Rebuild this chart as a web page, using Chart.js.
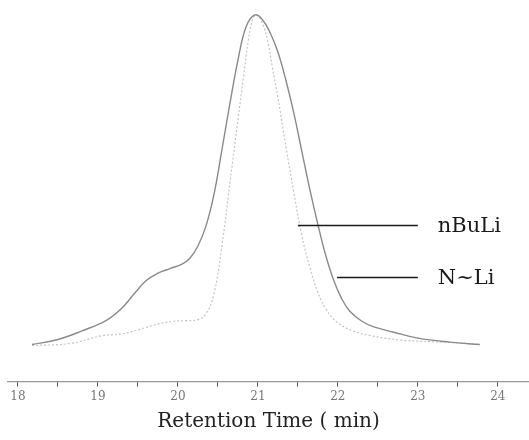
<!DOCTYPE html>
<html>
<head>
<meta charset="utf-8">
<script src="https://cdn.jsdelivr.net/npm/chart.js@4.4.1/dist/chart.umd.min.js"></script>
<style>
  body { margin: 0; background: #fff; }
</style>
</head>
<body>
<canvas id="gpc" width="529" height="440"></canvas>
<script>
// retention time (min) and normalised detector response (% of peak)
const outerTime = [18.175, 18.5, 18.8, 19.1, 19.3, 19.45, 19.6, 19.75, 19.9, 20.05, 20.15, 20.25, 20.35, 20.45, 20.55, 20.65, 20.75, 20.85, 20.96, 21.05, 21.15, 21.25, 21.35, 21.45, 21.55, 21.65, 21.75, 21.85, 21.95, 22.05, 22.15, 22.3, 22.45, 22.7, 23.0, 23.4, 23.775]
const outerResp = [0.3, 1.8, 4.4, 7.5, 11.3, 15.5, 19.5, 21.8, 23.2, 24.5, 26.3, 30.0, 36.0, 45.5, 59.0, 73.0, 86.0, 96.0, 99.7, 98.5, 94.5, 88.5, 80.0, 70.0, 58.5, 47.0, 36.5, 27.0, 19.5, 14.0, 10.3, 7.3, 5.6, 4.0, 2.2, 1.0, 0.3]

const innerTime = [18.175, 18.65, 19.06, 19.275, 19.525, 19.74, 19.94, 20.1, 20.25, 20.35, 20.45, 20.55, 20.65, 20.75, 20.82, 20.88, 20.93, 20.98, 21.05, 21.125, 21.18, 21.25, 21.35, 21.45, 21.55, 21.65, 21.75, 21.85, 22.0, 22.2, 22.4, 22.8, 23.4, 23.775]
const innerResp = [0.0, 0.6, 3.0, 3.4, 4.9, 6.4, 7.3, 7.5, 7.8, 9.5, 15.5, 30.0, 49.0, 68.0, 81.0, 92.0, 98.0, 99.7, 97.6, 91.5, 84.0, 74.8, 60.0, 46.0, 33.0, 23.5, 16.0, 11.0, 6.8, 4.3, 3.0, 1.6, 0.9, 0.3]

// leader lines: name, height, where the line starts (min)
const labelNames = ["nBuLi", "N~Li"]
const labelResp = [36.2, 20.7]
const labelFrom = [21.5, 21.99]
const labelTo = 23.0
const labelTextAt = 23.25

function toPoints(xs, ys) {
    return xs.map((x, i) => ({ x: x, y: ys[i] }))
}

const leaderPlugin = {
    id: "leaders",
    afterDatasetsDraw(chart) {
        const ctx = chart.ctx
        const xs = chart.scales.x
        const ys = chart.scales.y
        ctx.save()
        labelNames.forEach((name, i) => {
            const y = Math.round(ys.getPixelForValue(labelResp[i])) + 0.5
            ctx.strokeStyle = "#1a1a1a"
            ctx.lineWidth = 1.4
            ctx.beginPath()
            ctx.moveTo(xs.getPixelForValue(labelFrom[i]), y)
            ctx.lineTo(xs.getPixelForValue(labelTo), y)
            ctx.stroke()
            ctx.fillStyle = "#1a1a1a"
            ctx.font = "21px 'DejaVu Serif'"
            ctx.textBaseline = "middle"
            ctx.fillText(name, xs.getPixelForValue(labelTextAt), y + 1)
        })
        ctx.restore()
    }
}

new Chart(document.getElementById("gpc"), {
    type: "line",
    data: {
        datasets: [{
            label: "N~Li",
            data: toPoints(outerTime, outerResp),
            borderColor: "#8a8a8a",
            borderWidth: 1.4,
            pointRadius: 0,
            tension: 0.4
        }, {
            label: "nBuLi",
            data: toPoints(innerTime, innerResp),
            borderColor: "#c4c4c4",
            borderWidth: 1.2,
            borderDash: [2, 2],
            pointRadius: 0,
            tension: 0.4
        }]
    },
    options: {
        responsive: false,
        animation: false,
        layout: { padding: { left: 8, right: 0, top: 5, bottom: 6 } },
        plugins: { legend: { display: false }, tooltip: { enabled: false } },
        scales: {
            x: {
                type: "linear",
                min: 17.875,
                max: 24.39,
                border: { color: "#9a9a9a", width: 1.2 },
                grid: { drawOnChartArea: false, tickLength: 5, color: "#555" },
                ticks: {
                    stepSize: 0.5,
                    includeBounds: false,
                    autoSkip: false,
                    maxRotation: 0,
                    padding: 3,
                    color: "#777",
                    font: { family: "'DejaVu Serif'", size: 12 },
                    callback: v => Number.isInteger(v) ? v : ""
                },
                title: {
                    display: true,
                    text: "Retention Time ( min)",
                    color: "#222",
                    padding: { top: 3, bottom: 0 },
                    font: { family: "'DejaVu Serif'", size: 20 }
                }
            },
            y: { display: false, min: -10.9, max: 102.7 }
        }
    },
    plugins: [leaderPlugin]
})
</script>
</body>
</html>
